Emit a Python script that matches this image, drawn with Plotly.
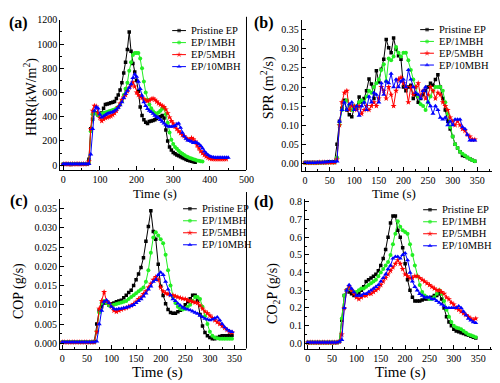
import plotly.graph_objects as go

W, H = 500, 383
series_names = ["Pristine EP", "EP/1MBH", "EP/5MBH", "EP/10MBH"]
colors = ["#000000", "#22ee22", "#ff0000", "#0000ff"]
symbols = ["square", "circle", "star", "triangle-up"]
msizes = [3.5, 4, 4.5, 4.5]

STEP = 5  # sampling interval of the data (s)

# ---------- (a) HRR (kW/m2) ----------
hrr_black = [8, 8, 9, 8, 7, 8, 8, 9, 8, 8, 8, 9, 8, 10,
             50, 300, 380, 430, 430, 415, 420, 430, 470, 500, 505, 510, 515, 520, 525, 550,
             580, 620, 680, 760, 850, 955, 1100, 940, 840, 770, 700, 610, 480, 410, 375, 355,
             345, 360, 365, 370, 375, 385, 395, 400, 410, 390, 290, 200, 150, 125, 105, 95,
             85, 78, 70, 62, 55, 48, 42, 37, 32, 28, 25]
hrr_green = [10, 10, 9, 10, 10, 10, 11, 10, 10, 10, 10, 11, 10, 12,
             20, 280, 420, 430, 425, 415, 420, 425, 430, 435, 440, 445, 450, 455, 460, 470,
             480, 500, 530, 580, 630, 680, 780, 850, 910, 925, 925, 925, 880, 800, 690, 600,
             540, 500, 470, 445, 430, 425, 435, 450, 465, 470, 420, 350, 270, 210, 175, 150,
             135, 120, 105, 95, 85, 75, 68, 60, 55, 50, 45, 40, 36, 33, 30]
hrr_red = [9, 9, 10, 9, 9, 10, 9, 9, 10, 9, 9, 10, 9, 11,
           30, 300, 450, 490, 485, 430, 390, 365, 380, 390, 395, 400, 405, 415, 430, 450,
           480, 510, 540, 560, 580, 610, 640, 660, 685, 650, 600, 580, 565, 555, 545, 535,
           530, 535, 545, 550, 540, 525, 510, 500, 490, 480, 460, 430, 395, 365, 345, 320,
           300, 280, 265, 250, 240, 225, 215, 210, 225, 215, 195, 165, 140, 115, 100, 85,
           72, 62, 56, 52, 50, 50, 50, 50, 50, 50, 50, 50]
hrr_blue = [10, 10, 10, 11, 10, 10, 10, 11, 10, 10, 10, 11, 10, 10, 12,
            90, 300, 450, 480, 470, 420, 395, 405, 415, 425, 430, 435, 440, 450, 460, 475,
            495, 520, 555, 590, 615, 640, 670, 720, 750, 730, 690, 630, 575, 520, 490, 465,
            450, 440, 425, 410, 400, 390, 375, 360, 345, 330, 320, 320, 318, 320, 325, 340,
            345, 310, 270, 240, 220, 205, 200, 195, 185, 190, 185, 175, 160, 140, 115, 98,
            85, 75, 68, 65, 63, 63, 63, 63, 63, 63, 63, 63]

# ---------- (b) SPR (m2/s) ----------
spr_black = [0.002, 0.002, 0.002, 0.002, 0.002, 0.002, 0.002, 0.002, 0.002, 0.003, 0.003, 0.003, 0.003,
             0.05, 0.11, 0.144, 0.165, 0.14, 0.127, 0.122, 0.144, 0.148, 0.174, 0.161, 0.17, 0.19,
             0.221, 0.208, 0.17, 0.243, 0.213, 0.247, 0.273, 0.325, 0.303, 0.29, 0.329, 0.299,
             0.282, 0.273, 0.20, 0.19, 0.2, 0.205, 0.17, 0.18, 0.16, 0.17, 0.18, 0.19, 0.20, 0.21,
             0.205, 0.22, 0.232, 0.2, 0.17, 0.14, 0.11, 0.09, 0.07, 0.05, 0.04, 0.03, 0.02,
             0.018, 0.015, 0.012, 0.008, 0.005]
spr_green = [0.001, 0.001, 0.001, 0.001, 0.001, 0.001, 0.001, 0.002, 0.002, 0.002, 0.002, 0.002, 0.002,
             0.015, 0.1, 0.14, 0.16, 0.165, 0.15, 0.14, 0.15, 0.145, 0.16, 0.165, 0.16, 0.175,
             0.19, 0.185, 0.2, 0.21, 0.22, 0.245, 0.26, 0.215, 0.275, 0.27, 0.28, 0.305, 0.29,
             0.28, 0.29, 0.29, 0.27, 0.245, 0.22, 0.2, 0.175, 0.155, 0.15, 0.14, 0.16, 0.175,
             0.19, 0.2, 0.2, 0.2, 0.19, 0.16, 0.13, 0.095, 0.07, 0.05, 0.04, 0.03, 0.025, 0.02,
             0.015, 0.012, 0.008, 0.005]
spr_red = [0.001, 0.001, 0.001, 0.001, 0.001, 0.001, 0.002, 0.002, 0.002, 0.002, 0.002, 0.002, 0.002,
           0.01, 0.1, 0.16, 0.185, 0.19, 0.14, 0.15, 0.15, 0.14, 0.15, 0.13, 0.14, 0.15, 0.14,
           0.15, 0.16, 0.15, 0.17, 0.2, 0.19, 0.17, 0.2, 0.18, 0.15, 0.19, 0.22, 0.225, 0.21,
           0.2, 0.16, 0.2, 0.18, 0.2, 0.21, 0.175, 0.19, 0.17, 0.18, 0.2, 0.19, 0.17, 0.185,
           0.18, 0.16, 0.15, 0.14, 0.12, 0.11, 0.1, 0.11, 0.1, 0.09, 0.085, 0.075, 0.07, 0.062, 0.062]
spr_blue = [0.001, 0.001, 0.001, 0.001, 0.001, 0.002, 0.002, 0.002, 0.003, 0.003, 0.004, 0.004, 0.004,
            0.005, 0.11, 0.14, 0.16, 0.14, 0.155, 0.16, 0.14, 0.15, 0.125, 0.15, 0.16, 0.14,
            0.175, 0.16, 0.185, 0.18, 0.16, 0.21, 0.18, 0.215, 0.21, 0.235, 0.2, 0.22, 0.2,
            0.215, 0.22, 0.2, 0.245, 0.22, 0.2, 0.185, 0.18, 0.17, 0.19, 0.2, 0.16, 0.15, 0.13,
            0.15, 0.14, 0.12, 0.115, 0.12, 0.1, 0.11, 0.1, 0.115, 0.115, 0.115, 0.095, 0.09,
            0.075, 0.06, 0.06, 0.06]

# ---------- (c) COP (g/s) ----------
cop_black = [0.0003, 0.0003, 0.0003, 0.0003, 0.0003, 0.0003, 0.0003, 0.0003, 0.0003,
             0.0003, 0.0003, 0.0003, 0.0003,
             0.0005, 0.005, 0.0085, 0.0095, 0.0105, 0.0105, 0.0099, 0.0103, 0.0105, 0.0108,
             0.011, 0.0112, 0.0118, 0.0125, 0.0132, 0.0138, 0.015, 0.0165, 0.018, 0.0197,
             0.0222, 0.0265, 0.0303, 0.0344, 0.029, 0.027, 0.0205, 0.0148, 0.0124, 0.0103,
             0.0088, 0.008, 0.0078, 0.0078, 0.0082, 0.0086, 0.0092, 0.01, 0.0108, 0.0116,
             0.0125, 0.0125, 0.011, 0.0075, 0.0045, 0.0028, 0.002, 0.0015, 0.0012, 0.0012,
             0.0015, 0.0018, 0.002, 0.002, 0.002, 0.0021, 0.0021]
cop_green = [0.0003, 0.0003, 0.0003, 0.0003, 0.0003, 0.0003, 0.0003, 0.0003, 0.0003, 0.0003,
             0.0003, 0.0003, 0.0003,
             0.0003, 0.003, 0.008, 0.0105, 0.011, 0.0105, 0.0098, 0.0098, 0.01, 0.0102,
             0.0104, 0.0106, 0.0108, 0.011, 0.0115, 0.012, 0.0125, 0.013, 0.0135, 0.014,
             0.0145, 0.016, 0.019, 0.0235, 0.0275, 0.0288, 0.028, 0.027, 0.026, 0.023, 0.019,
             0.015, 0.012, 0.0105, 0.0095, 0.009, 0.0088, 0.009, 0.0095, 0.01, 0.011, 0.012,
             0.012, 0.0115, 0.0095, 0.007, 0.005, 0.003, 0.002, 0.0015, 0.0013, 0.0012,
             0.0012, 0.0012, 0.0012, 0.0012, 0.0012]
cop_red = [0.0003, 0.0003, 0.0003, 0.0003, 0.0003, 0.0003, 0.0003, 0.0003, 0.0003, 0.0003,
           0.0003, 0.0003, 0.0003,
           0.0003, 0.003, 0.009, 0.011, 0.0133, 0.011, 0.0105, 0.0095, 0.0085, 0.0082, 0.0085,
           0.0088, 0.009, 0.0092, 0.0095, 0.0098, 0.0102, 0.0108, 0.0115, 0.012, 0.0128,
           0.0135, 0.0145, 0.0155, 0.0165, 0.0172, 0.0165, 0.0145, 0.0135, 0.013, 0.0128,
           0.0125, 0.0125, 0.0122, 0.012, 0.0118, 0.0116, 0.0115, 0.0112, 0.011, 0.0108,
           0.0106, 0.0105, 0.0098, 0.009, 0.0083, 0.0078, 0.0072, 0.0066, 0.006, 0.0055,
           0.005, 0.0045, 0.004, 0.0035, 0.003, 0.0028]
cop_blue = [0.0003, 0.0003, 0.0003, 0.0003, 0.0003, 0.0003, 0.0003, 0.0003, 0.0003, 0.0003,
            0.0003, 0.0003, 0.0003,
            0.0003, 0.0005, 0.005, 0.0085, 0.0108, 0.0112, 0.0105, 0.0095, 0.009, 0.0088,
            0.009, 0.009, 0.0092, 0.0093, 0.0095, 0.0097, 0.01, 0.0105, 0.011, 0.0115,
            0.0122, 0.013, 0.014, 0.0148, 0.016, 0.0165, 0.0178, 0.0184, 0.0178, 0.016,
            0.014, 0.0125, 0.0115, 0.011, 0.0103, 0.0098, 0.0093, 0.009, 0.0088, 0.0086,
            0.0083, 0.008, 0.0077, 0.0072, 0.0068, 0.0064, 0.0062, 0.006, 0.0062, 0.0065,
            0.0068, 0.006, 0.005, 0.0042, 0.0036, 0.0032, 0.003]

# ---------- (d) CO2P (g/s) ----------
co2_black = [0.005, 0.005, 0.005, 0.005, 0.005, 0.005, 0.005, 0.005, 0.005, 0.005, 0.005, 0.005, 0.005,
             0.01, 0.13, 0.27, 0.30, 0.29, 0.28, 0.27, 0.27, 0.28, 0.3, 0.32, 0.35, 0.36, 0.37,
             0.38, 0.39, 0.41, 0.44, 0.48, 0.53, 0.6, 0.68, 0.72, 0.72, 0.64, 0.6, 0.54, 0.45,
             0.36, 0.3, 0.26, 0.24, 0.24, 0.24, 0.245, 0.25, 0.25, 0.255, 0.26, 0.27, 0.27,
             0.28, 0.25, 0.2, 0.15, 0.12, 0.1, 0.08, 0.07, 0.065, 0.06, 0.055, 0.05, 0.045,
             0.04, 0.035, 0.03]
co2_green = [0.005, 0.005, 0.005, 0.005, 0.005, 0.005, 0.005, 0.005, 0.005, 0.005, 0.005, 0.005, 0.005,
             0.01, 0.14, 0.27, 0.3, 0.31, 0.3, 0.29, 0.29, 0.3, 0.31, 0.31, 0.32, 0.33, 0.34,
             0.35, 0.36, 0.38, 0.4, 0.42, 0.44, 0.46, 0.5, 0.56, 0.62, 0.69, 0.66, 0.64, 0.63,
             0.62, 0.56, 0.5, 0.44, 0.38, 0.33, 0.29, 0.27, 0.26, 0.25, 0.25, 0.26, 0.28, 0.3,
             0.28, 0.24, 0.19, 0.15, 0.12, 0.1, 0.09, 0.085, 0.08, 0.07, 0.06, 0.05, 0.045,
             0.04, 0.035]
co2_red = [0.005, 0.005, 0.005, 0.005, 0.005, 0.005, 0.005, 0.005, 0.005, 0.005, 0.005, 0.005, 0.005,
           0.01, 0.05, 0.2, 0.3, 0.32, 0.3, 0.28, 0.26, 0.25, 0.26, 0.27, 0.27, 0.28, 0.28,
           0.29, 0.3, 0.31, 0.33, 0.35, 0.37, 0.39, 0.41, 0.43, 0.45, 0.47, 0.45, 0.42, 0.39,
           0.38, 0.37, 0.37, 0.38, 0.38, 0.37, 0.36, 0.35, 0.34, 0.33, 0.32, 0.31, 0.3, 0.3,
           0.29, 0.28, 0.26, 0.25, 0.23, 0.22, 0.2, 0.19, 0.18, 0.17, 0.16, 0.15, 0.14,
           0.13, 0.14]
co2_blue = [0.005, 0.005, 0.005, 0.005, 0.005, 0.005, 0.005, 0.005, 0.005, 0.005, 0.005, 0.005, 0.005,
            0.01, 0.02, 0.2, 0.3, 0.33, 0.31, 0.29, 0.27, 0.27, 0.27, 0.28, 0.28, 0.29, 0.3,
            0.31, 0.32, 0.33, 0.35, 0.37, 0.39, 0.42, 0.44, 0.48, 0.49, 0.49, 0.48, 0.5, 0.51,
            0.47, 0.4, 0.35, 0.32, 0.3, 0.28, 0.27, 0.26, 0.26, 0.26, 0.25, 0.25, 0.24, 0.23,
            0.22, 0.21, 0.2, 0.2, 0.2, 0.2, 0.2, 0.21, 0.2, 0.18, 0.16, 0.14, 0.13, 0.12, 0.115]

panels = [
    dict(key="a", data=[hrr_black, hrr_green, hrr_red, hrr_blue]),
    dict(key="b", data=[spr_black, spr_green, spr_red, spr_blue]),
    dict(key="c", data=[cop_black, cop_green, cop_red, cop_blue]),
    dict(key="d", data=[co2_black, co2_green, co2_red, co2_blue]),
]

# ---------- layout geometry (pixels) ----------
geom = {
    "a": dict(px=(61.3, 250.5), py=(15, 167.7), xr=[-8, 500], yr=[-40, 1200],
              dx=100, mdx=50, dy=200, mdy=100, yfmt="d"),
    "b": dict(px=(306.7, 500), py=(15, 168.3), xr=[-6.6, 380], yr=[-0.0196, 0.3766],
              dx=50, mdx=25, dy=0.05, mdy=0.025, yfmt=".2f"),
    "c": dict(px=(61, 250), py=(196.7, 349), xr=[-4.6, 373.4], yr=[-0.00135, 0.03756],
              dx=50, mdx=25, dy=0.005, mdy=0.0025, yfmt=".3f"),
    "d": dict(px=(310, 500), py=(196.7, 349), xr=[-5.5, 378.4], yr=[-0.0295, 0.8185],
              dx=50, mdx=25, dy=0.1, mdy=0.05, yfmt=".1f"),
}

FONT = "Liberation Serif, serif"
fig = go.Figure()
layout = dict(width=W, height=H, margin=dict(l=0, r=0, t=0, b=0),
              paper_bgcolor="white", plot_bgcolor="rgba(0,0,0,0)", showlegend=False,
              font=dict(family=FONT, color="black"), hovermode=False)

for i, p in enumerate(panels):
    g = geom[p["key"]]
    n = i + 1
    xa = "xaxis" if n == 1 else f"xaxis{n}"
    ya = "yaxis" if n == 1 else f"yaxis{n}"
    xref = "x" if n == 1 else f"x{n}"
    yref = "y" if n == 1 else f"y{n}"
    common = dict(showline=True, linecolor="black", linewidth=1, ticks="inside",
                  ticklen=4, tickcolor="black", tickwidth=1, showgrid=False, zeroline=False,
                  tickfont=dict(family=FONT, size=10, color="black"), tickmode="linear", tick0=0)
    layout[xa] = dict(domain=[g["px"][0] / W, g["px"][1] / W], range=g["xr"], anchor=yref,
                      dtick=g["dx"], minor=dict(dtick=g["mdx"], ticks="inside", ticklen=2,
                                                tickcolor="black", showgrid=False), **common)
    layout[ya] = dict(domain=[1 - g["py"][1] / H, 1 - g["py"][0] / H], range=g["yr"], anchor=xref,
                      dtick=g["dy"], tickformat=g["yfmt"],
                      minor=dict(dtick=g["mdy"], ticks="inside", ticklen=2,
                                 tickcolor="black", showgrid=False), **common)
    for s, vals in enumerate(p["data"]):
        t = [STEP * k for k in range(len(vals))]
        fig.add_trace(go.Scatter(x=t, y=vals, mode="lines+markers", xaxis=xref, yaxis=yref,
                                 name=series_names[s], cliponaxis=True,
                                 line=dict(color=colors[s], width=1),
                                 marker=dict(symbol=symbols[s], size=msizes[s], color=colors[s],
                                             line=dict(width=0))))

# ---------- overlay axis (pixel space) for legend samples ----------
layout["xaxis5"] = dict(domain=[0, 1], range=[0, W], visible=False, anchor="y5", fixedrange=True)
layout["yaxis5"] = dict(domain=[0, 1], range=[H, 0], visible=False, anchor="x5", fixedrange=True)

legend_pos = {"a": (175, 26, 12.2), "b": (427, 25, 12), "c": (186, 207, 12.2), "d": (430, 208, 12.2)}
annotations = []
for key, (lx, ly, sp) in legend_pos.items():
    for s in range(4):
        yy = ly + s * sp
        fig.add_trace(go.Scatter(x=[lx, lx + 7, lx + 14], y=[yy, yy, yy], xaxis="x5", yaxis="y5",
                                 mode="lines+markers", showlegend=False, hoverinfo="skip",
                                 line=dict(color=colors[s], width=1),
                                 marker=dict(symbol=symbols[s], size=[0, msizes[s], 0],
                                             color=colors[s], line=dict(width=0))))
        annotations.append(dict(x=(lx + 17) / W, y=1 - yy / H, xref="paper", yref="paper",
                                text=series_names[s], showarrow=False, xanchor="left",
                                yanchor="middle", font=dict(family=FONT, size=10.5, color="black")))

# ---------- titles & panel labels ----------
def ann(x, y, text, size, angle=0, bold=False):
    annotations.append(dict(x=x / W, y=1 - y / H, xref="paper", yref="paper", text=text,
                            showarrow=False, textangle=angle, xanchor="center", yanchor="middle",
                            font=dict(family=FONT, size=size, color="black",
                                      weight=700 if bold else 400)))

ann(19, 18, "(a)", 16, bold=True)
ann(268, 18, "(b)", 16, bold=True)
ann(19, 199, "(c)", 16, bold=True)
ann(268, 200, "(d)", 16, bold=True)
ann(31, 94, "HRR(kW/m<sup>2</sup>)", 14, angle=-90)
ann(272, 84, "SPR (m<sup>2</sup>/s)", 14, angle=-90)
ann(20, 291, "COP (g/s)", 14, angle=-90)
ann(278, 293, "CO<sub>2</sub>P (g/s)", 14, angle=-90)
ann(158, 191, "Time (s)", 13)
ann(400, 191, "Time (s)", 13)
ann(160, 373, "Time (s)", 15)
ann(407, 373, "Time (s)", 15)

layout["annotations"] = annotations
layout["shapes"] = [
    dict(type="line", xref="paper", yref="paper", x0=250.5 / W, x1=250.5 / W,
         y0=1 - 167.7 / H, y1=1 - 12 / H, line=dict(color="black", width=1)),
    dict(type="line", xref="paper", yref="paper", x0=250.5 / W, x1=250.5 / W,
         y0=1 - 349 / H, y1=1 - 190 / H, line=dict(color="black", width=1)),
]
fig.update_layout(**layout)
fig.write_html("out.html", config={"displayModeBar": False, "staticPlot": True},
               post_script="document.body.style.margin='0px';document.body.style.overflow='hidden';")
